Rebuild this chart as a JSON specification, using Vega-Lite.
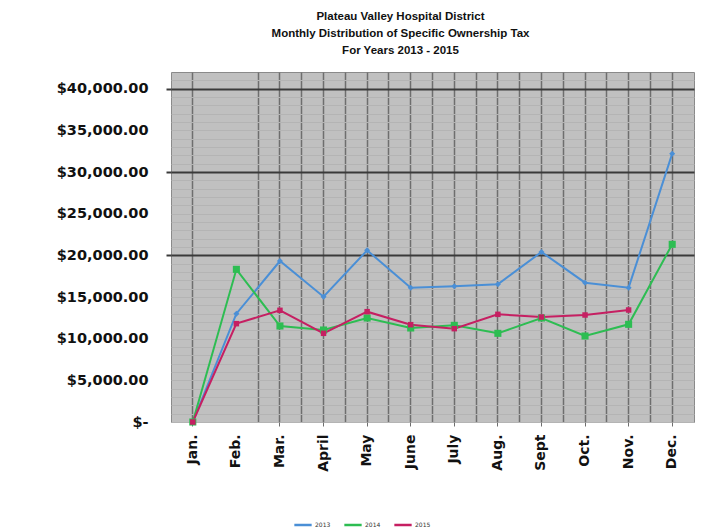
{
  "$schema": "https://vega.github.io/schema/vega-lite/v6.json",
  "autosize": {"type": "none"},
  "width": 523,
  "height": 350,
  "padding": {"left": 171, "top": 72, "right": 8, "bottom": 107},
  "background": "#ffffff",
  "title": {
    "text": ["Plateau Valley Hospital District", "Monthly Distribution of Specific Ownership Tax", "For Years 2013 - 2015"],
    "font": "Liberation Sans",
    "fontSize": 11.5,
    "fontWeight": "bold",
    "lineHeight": 17,
    "color": "#111111",
    "anchor": "middle",
    "dx": -32,
    "offset": 16
  },
  "config": {
    "view": {"fill": "#c0c0c0", "stroke": "#8a8a8a", "strokeWidth": 1}
  },
  "data": {
    "values": [
      {"year": "2013", "month": "Jan.", "value": 0},
      {"year": "2013", "month": "Feb.", "value": 13000},
      {"year": "2013", "month": "Mar.", "value": 19320},
      {"year": "2013", "month": "April", "value": 15040},
      {"year": "2013", "month": "May", "value": 20600},
      {"year": "2013", "month": "June", "value": 16120},
      {"year": "2013", "month": "July", "value": 16280},
      {"year": "2013", "month": "Aug.", "value": 16520},
      {"year": "2013", "month": "Sept", "value": 20400},
      {"year": "2013", "month": "Oct.", "value": 16720},
      {"year": "2013", "month": "Nov.", "value": 16120},
      {"year": "2013", "month": "Dec.", "value": 32200},
      {"year": "2014", "month": "Jan.", "value": 0},
      {"year": "2014", "month": "Feb.", "value": 18320},
      {"year": "2014", "month": "Mar.", "value": 11520},
      {"year": "2014", "month": "April", "value": 11040},
      {"year": "2014", "month": "May", "value": 12480},
      {"year": "2014", "month": "June", "value": 11280},
      {"year": "2014", "month": "July", "value": 11600},
      {"year": "2014", "month": "Aug.", "value": 10640},
      {"year": "2014", "month": "Sept", "value": 12480},
      {"year": "2014", "month": "Oct.", "value": 10320},
      {"year": "2014", "month": "Nov.", "value": 11720},
      {"year": "2014", "month": "Dec.", "value": 21320},
      {"year": "2015", "month": "Jan.", "value": 0},
      {"year": "2015", "month": "Feb.", "value": 11800},
      {"year": "2015", "month": "Mar.", "value": 13400},
      {"year": "2015", "month": "April", "value": 10640},
      {"year": "2015", "month": "May", "value": 13240},
      {"year": "2015", "month": "June", "value": 11680},
      {"year": "2015", "month": "July", "value": 11200},
      {"year": "2015", "month": "Aug.", "value": 12920},
      {"year": "2015", "month": "Sept", "value": 12600},
      {"year": "2015", "month": "Oct.", "value": 12840},
      {"year": "2015", "month": "Nov.", "value": 13440}
    ]
  },
  "encoding": {
    "y": {
      "field": "value",
      "type": "quantitative",
      "scale": {"domain": [0, 42000], "nice": false},
      "axis": {
        "title": null,
        "values": [0,1000,2000,3000,4000,5000,6000,7000,8000,9000,10000,11000,12000,13000,14000,15000,16000,17000,18000,19000,20000,21000,22000,23000,24000,25000,26000,27000,28000,29000,30000,31000,32000,33000,34000,35000,36000,37000,38000,39000,40000,41000],
        "labelExpr": "datum.value % 5000 !== 0 ? '' : (datum.value === 0 ? '$-\u00a0\u00a0\u00a0' : '$' + format(datum.value, ',.2f'))",
        "labelFont": "DejaVu Sans",
        "labelFontWeight": "bold",
        "labelFontSize": 14.5,
        "labelColor": "#111111",
        "labelPadding": 18,
        "labelOverlap": false,
        "labelBound": false,
        "domain": false,
        "grid": true,
        "gridColor": {"condition": {"test": "datum.value === 20000 || datum.value === 30000 || datum.value === 40000", "value": "#3a3a3a"}, "value": "#b4b4b4"},
        "gridWidth": {"condition": {"test": "datum.value === 20000 || datum.value === 30000 || datum.value === 40000", "value": 2}, "value": 1},
        "tickColor": {"condition": {"test": "datum.value === 20000 || datum.value === 30000 || datum.value === 40000", "value": "#3a3a3a"}, "value": "transparent"},
        "tickWidth": 2,
        "tickSize": 5
      }
    },
    "color": {
      "field": "year",
      "type": "nominal",
      "scale": {"domain": ["2013", "2014", "2015"], "range": ["#4a8fd6", "#2dbd52", "#c61f62"]},
      "legend": {
        "title": null,
        "orient": "none",
        "direction": "horizontal",
        "legendX": 122,
        "legendY": 443,
        "symbolType": "stroke",
        "symbolStrokeWidth": 2.5,
        "symbolSize": 300,
        "labelFontSize": 6,
        "labelFont": "DejaVu Sans",
        "labelColor": "#333333",
        "columnPadding": 8,
        "labelOffset": 2
      }
    }
  },
  "layer": [
    {
      "mark": {"type": "line", "strokeWidth": 2},
      "encoding": {
        "x": {
          "field": "month",
          "type": "ordinal",
          "sort": ["Jan.", "Feb.", "Mar.", "April", "May", "June", "July", "Aug.", "Sept", "Oct.", "Nov.", "Dec."],
          "bandPosition": 0.5,
          "scale": {"type": "band", "paddingInner": 0, "paddingOuter": 0},
          "axis": {
            "title": null,
            "orient": "bottom",
            "bandPosition": 0.5,
            "labelAngle": 270,
            "labelAlign": "right",
            "labelBaseline": "middle",
            "labelFont": "DejaVu Sans",
            "labelFontWeight": "bold",
            "labelFontSize": 14,
            "labelColor": "#111111",
            "labelPadding": 8,
            "domain": false,
            "grid": true,
            "gridColor": "#6e6e6e",
            "gridWidth": 1.5,
            "gridOpacity": {"condition": {"test": "datum.value === 'Feb.'", "value": 0}, "value": 1},
            "tickColor": "#6e6e6e",
            "tickSize": 4,
            "tickOpacity": {"condition": {"test": "datum.value === 'Feb.'", "value": 0}, "value": 1}
          }
        }
      }
    },
    {
      "transform": [{"filter": "datum.year === '2013'"}],
      "mark": {"type": "point", "filled": true, "opacity": 1, "shape": "diamond", "size": 36},
      "encoding": {
        "x": {
          "field": "month",
          "type": "ordinal",
          "sort": ["Jan.", "Feb.", "Mar.", "April", "May", "June", "July", "Aug.", "Sept", "Oct.", "Nov.", "Dec."],
          "bandPosition": 0.5,
          "axis": {
            "title": null,
            "orient": "top",
            "bandPosition": 0,
            "values": ["Mar.", "April", "May", "June", "July", "Aug.", "Sept", "Oct.", "Nov.", "Dec."],
            "labels": false,
            "ticks": false,
            "domain": false,
            "grid": true,
            "gridColor": "#6e6e6e",
            "gridWidth": 1.5
          }
        }
      }
    },
    {
      "transform": [{"filter": "datum.year === '2014'"}],
      "mark": {"type": "point", "filled": true, "opacity": 1, "shape": "square", "size": 50},
      "encoding": {
        "x": {
          "field": "month",
          "type": "ordinal",
          "sort": ["Jan.", "Feb.", "Mar.", "April", "May", "June", "July", "Aug.", "Sept", "Oct.", "Nov.", "Dec."],
          "bandPosition": 0.5,
          "axis": null
        }
      }
    },
    {
      "transform": [{"filter": "datum.year === '2015'"}],
      "mark": {"type": "point", "filled": true, "opacity": 1, "shape": "square", "size": 30},
      "encoding": {
        "x": {
          "field": "month",
          "type": "ordinal",
          "sort": ["Jan.", "Feb.", "Mar.", "April", "May", "June", "July", "Aug.", "Sept", "Oct.", "Nov.", "Dec."],
          "bandPosition": 0.5,
          "axis": null
        }
      }
    }
  ],
  "resolve": {"axis": {"x": "independent"}}
}
